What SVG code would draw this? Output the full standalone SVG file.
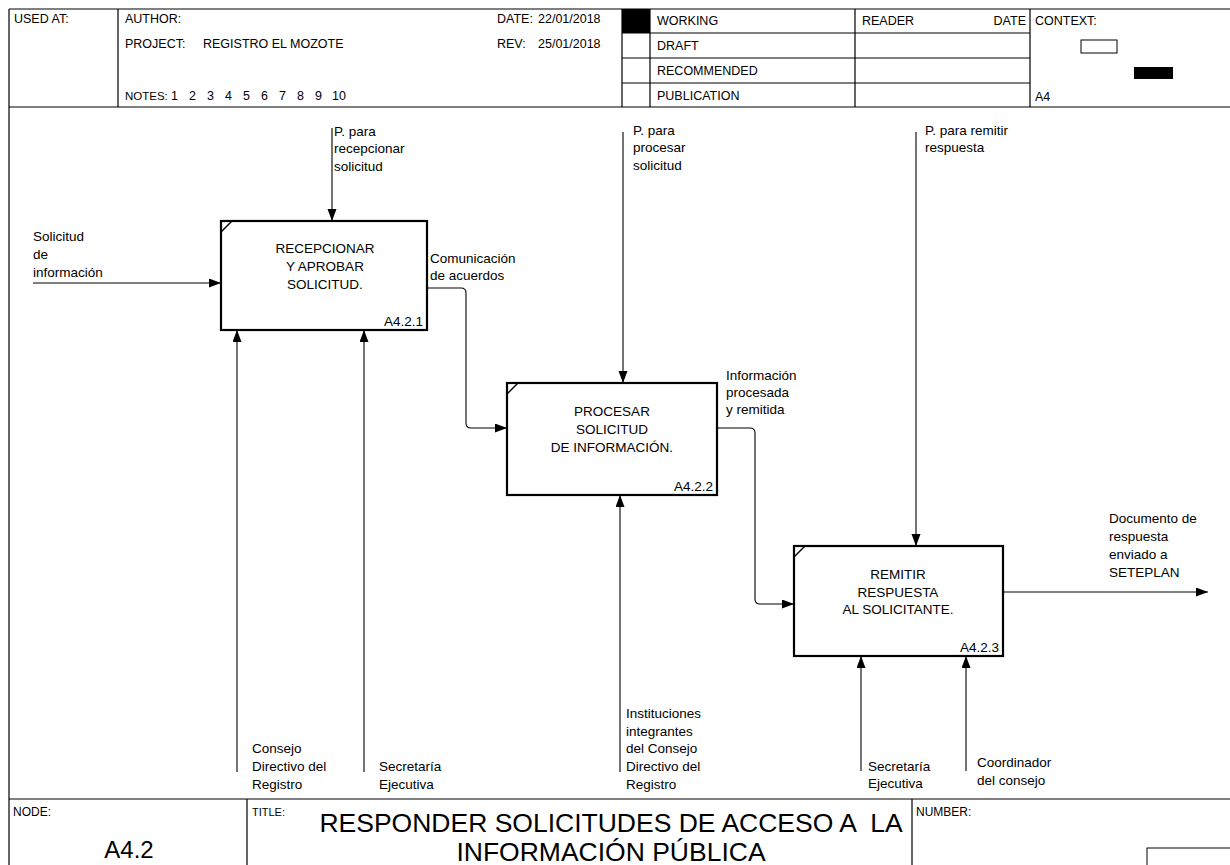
<svg xmlns="http://www.w3.org/2000/svg" width="1230" height="865" viewBox="0 0 1230 865">
<style>
text{font-family:"Liberation Sans",Arial,sans-serif;fill:#000}
.h{font-size:12.5px}
.s{font-size:12px}
.l{font-size:13.5px}
.c{text-anchor:middle}
.r{text-anchor:end}
.frame{stroke:#000;stroke-width:1.2;fill:none}
.box{fill:#fff;stroke:#000;stroke-width:2.2}
.con{fill:none;stroke:#000;stroke-width:1.1}
</style>
<defs>
<marker id="ah" markerUnits="userSpaceOnUse" markerWidth="12" markerHeight="10" refX="12" refY="4.5" orient="auto">
<path d="M0,0 L12,4.5 L0,9 z" fill="#000"/>
</marker>
</defs>
<rect x="0" y="0" width="1230" height="865" fill="#fff"/>
<g id="header">
<path class="frame" d="M9,9 H1230 M9,9 V865 M9,107 H1230 M118,9 V107 M622,9 V107 M650,9 V107 M855,9 V107 M1030,9 V107 M622,33 H1030 M622,58 H1030 M622,83 H1030"/>
<rect x="622" y="9" width="28" height="24" fill="#000"/>
<text class="h" x="14" y="23">USED AT:</text>
<text class="h" x="125" y="23">AUTHOR:</text>
<text class="h" x="125" y="48">PROJECT:</text>
<text class="h" x="203" y="48">REGISTRO EL MOZOTE</text>
<text class="h" y="100"><tspan x="125" style="font-size:11.5px">NOTES:</tspan> <tspan x="171">1</tspan> <tspan x="189">2</tspan> <tspan x="207">3</tspan> <tspan x="225">4</tspan> <tspan x="243">5</tspan> <tspan x="261">6</tspan> <tspan x="279">7</tspan> <tspan x="297">8</tspan> <tspan x="315">9</tspan> <tspan x="332">10</tspan></text>
<text class="h" x="497" y="23">DATE:</text>
<text class="h" x="538" y="23">22/01/2018</text>
<text class="h" x="497" y="48">REV:</text>
<text class="h" x="538" y="48">25/01/2018</text>
<text class="h" x="657" y="25">WORKING</text>
<text class="h" x="657" y="50">DRAFT</text>
<text class="h" x="657" y="75">RECOMMENDED</text>
<text class="h" x="657" y="100">PUBLICATION</text>
<text class="h" x="862" y="25">READER</text>
<text class="h r" x="1026" y="25">DATE</text>
<text class="h" x="1035" y="25">CONTEXT:</text>
<rect x="1081" y="40" width="36" height="13" fill="#fff" stroke="#000" stroke-width="1"/>
<rect x="1134" y="67" width="39" height="12" fill="#000"/>
<text class="h" x="1035" y="101">A4</text>
</g>
<g id="footer">
<path class="frame" d="M9,799 H1230 M247,799 V865 M912,799 V865"/>
<rect x="1147" y="848" width="90" height="20" fill="#fff" stroke="#000" stroke-width="1"/>
<text class="s" x="13" y="816">NODE:</text>
<text x="129" y="858" style="font-size:24px" class="c">A4.2</text>
<text class="s" x="252" y="816" style="font-size:11px">TITLE:</text>
<text x="611" y="832" class="c" style="font-size:26.5px" xml:space="preserve">RESPONDER SOLICITUDES DE ACCESO A  LA</text>
<text x="611" y="861" class="c" style="font-size:26.5px">INFORMACIÓN PÚBLICA</text>
<text class="s" x="916" y="816">NUMBER:</text>
</g>
<g id="connectors">
<path class="con" d="M33,283 H221" marker-end="url(#ah)"/>
<path class="con" d="M332,128 V221" marker-end="url(#ah)"/>
<path class="con" d="M237,772 V330" marker-end="url(#ah)"/>
<path class="con" d="M364,772 V330" marker-end="url(#ah)"/>
<path class="con" d="M427,288 H461 Q466,288 466,293 V423 Q466,428 471,428 H507" marker-end="url(#ah)"/>
<path class="con" d="M623,132 V383" marker-end="url(#ah)"/>
<path class="con" d="M620,772 V495" marker-end="url(#ah)"/>
<path class="con" d="M717,428 H750 Q755,428 755,433 V599 Q755,604 760,604 H794" marker-end="url(#ah)"/>
<path class="con" d="M916,132 V546" marker-end="url(#ah)"/>
<path class="con" d="M861,771 V656" marker-end="url(#ah)"/>
<path class="con" d="M966,771 V656" marker-end="url(#ah)"/>
<path class="con" d="M1003,592 H1208" marker-end="url(#ah)"/>
</g>
<g id="labels">
<text class="l" x="334" y="136">P. para</text>
<text class="l" x="334" y="153">recepcionar</text>
<text class="l" x="334" y="171">solicitud</text>
<text class="l" x="33" y="241">Solicitud</text>
<text class="l" x="33" y="259">de</text>
<text class="l" x="33" y="277">información</text>
<text class="l" x="430" y="263">Comunicación</text>
<text class="l" x="430" y="280">de acuerdos</text>
<text class="l" x="633" y="135">P. para</text>
<text class="l" x="633" y="152">procesar</text>
<text class="l" x="633" y="170">solicitud</text>
<text class="l" x="726" y="380">Información</text>
<text class="l" x="726" y="397">procesada</text>
<text class="l" x="726" y="414">y remitida</text>
<text class="l" x="925" y="135">P. para remitir</text>
<text class="l" x="925" y="152">respuesta</text>
<text class="l" x="1109" y="523">Documento de</text>
<text class="l" x="1109" y="541">respuesta</text>
<text class="l" x="1109" y="559">enviado a</text>
<text class="l" x="1109" y="577">SETEPLAN</text>
<text class="l" x="252" y="753">Consejo</text>
<text class="l" x="252" y="771">Directivo del</text>
<text class="l" x="252" y="789">Registro</text>
<text class="l" x="379" y="771">Secretaría</text>
<text class="l" x="379" y="789">Ejecutiva</text>
<text class="l" x="626" y="718">Instituciones</text>
<text class="l" x="626" y="736">integrantes</text>
<text class="l" x="626" y="753">del Consejo</text>
<text class="l" x="626" y="771">Directivo del</text>
<text class="l" x="626" y="789">Registro</text>
<text class="l" x="868" y="771">Secretaría</text>
<text class="l" x="868" y="788">Ejecutiva</text>
<text class="l" x="977" y="767">Coordinador</text>
<text class="l" x="977" y="785">del consejo</text>
</g>
<g id="box1">
<rect class="box" x="221" y="221" width="206" height="109"/>
<path class="con" d="M221,232 L232,221" style="stroke-width:1.5"/>
<text class="l c" x="325" y="253">RECEPCIONAR</text>
<text class="l c" x="325" y="271">Y APROBAR</text>
<text class="l c" x="325" y="289">SOLICITUD.</text>
<text class="l r" x="423" y="326">A4.2.1</text>
</g>
<g id="box2">
<rect class="box" x="507" y="383" width="210" height="112"/>
<path class="con" d="M507,394 L518,383" style="stroke-width:1.5"/>
<text class="l c" x="612" y="416">PROCESAR</text>
<text class="l c" x="612" y="434">SOLICITUD</text>
<text class="l c" x="612" y="452">DE INFORMACIÓN.</text>
<text class="l r" x="713" y="491">A4.2.2</text>
</g>
<g id="box3">
<rect class="box" x="794" y="546" width="209" height="110"/>
<path class="con" d="M794,557 L805,546" style="stroke-width:1.5"/>
<text class="l c" x="898" y="579">REMITIR</text>
<text class="l c" x="898" y="597">RESPUESTA</text>
<text class="l c" x="898" y="614">AL SOLICITANTE.</text>
<text class="l r" x="999" y="652">A4.2.3</text>
</g>
</svg>
